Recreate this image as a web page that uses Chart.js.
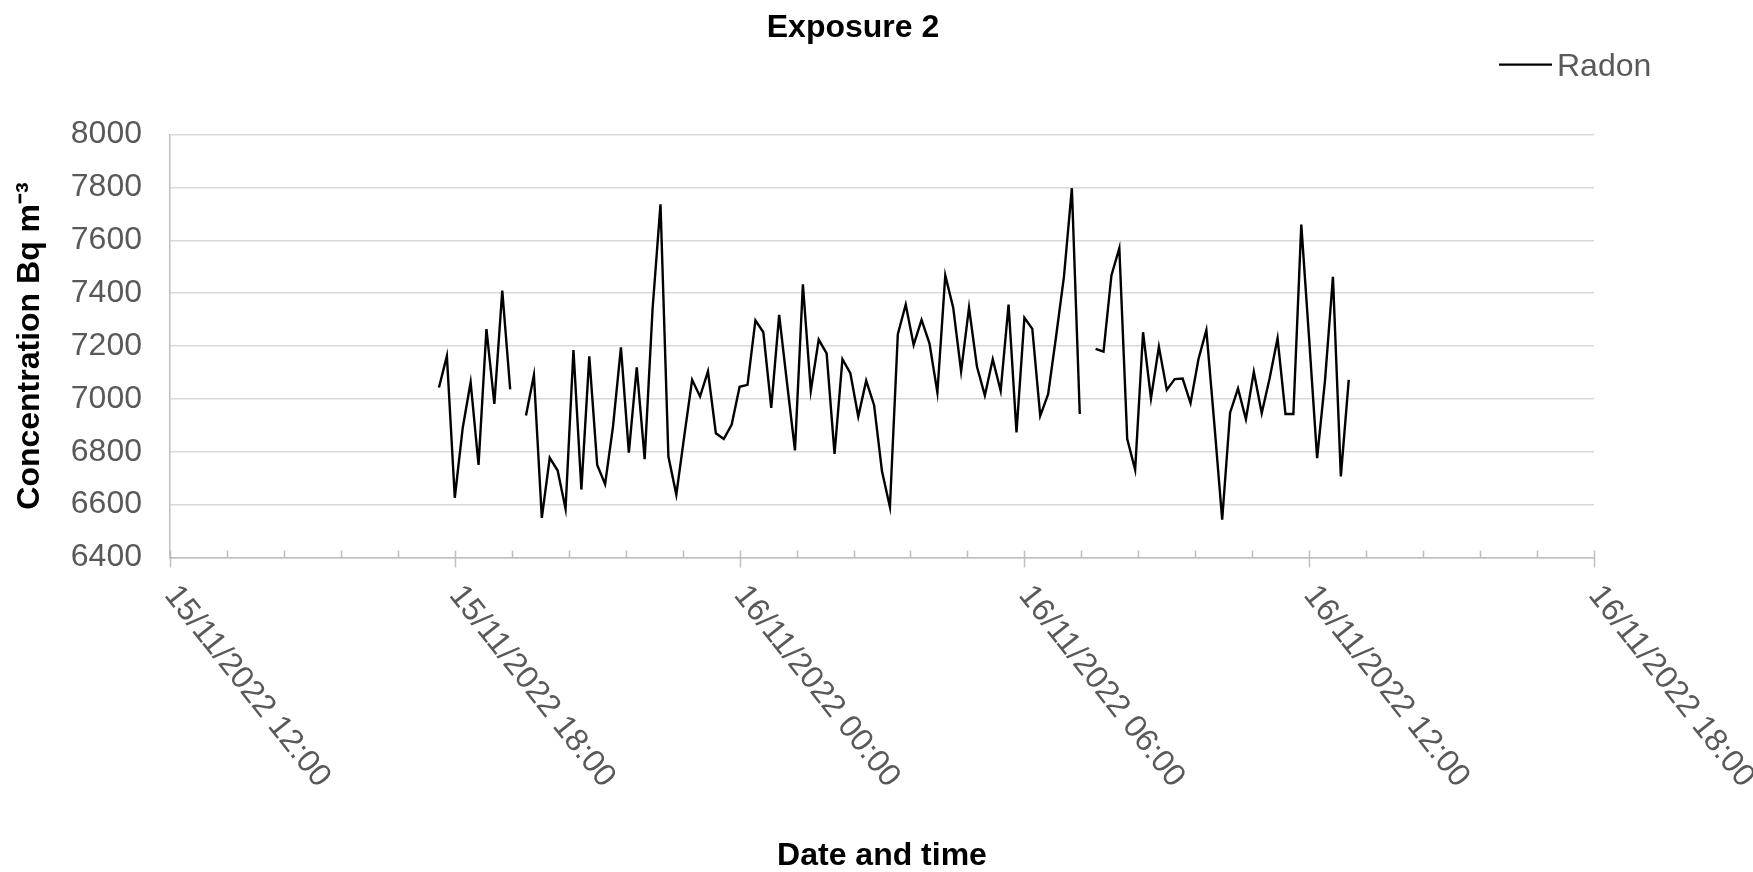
<!DOCTYPE html>
<html lang="en">
<head>
  <meta charset="UTF-8">
  <title>Exposure 2</title>
  <script src="https://cdn.jsdelivr.net/npm/chart.js"></script>
  <style>
    body { margin: 0; background: #fff; }
    #wrap { width: 1753px; height: 872px; }
  </style>
</head>
<body>
  <div id="wrap"><canvas id="chart"></canvas></div>

  <script>
    // minutes after 15/11/2022 12:00
    const firstReading = 340;   // 15/11/2022 17:40
    const stepMinutes = 10;

    // Radon readings, Bq m-3 (null = no reading)
    const radon = [
      7043, 7162, 6626, 6890, 7063, 6750, 7264, 6981, 7410, 7036,
      null,
      6937, 7090, 6550, 6777, 6729, 6584, 7185, 6657, 7161,
      6750, 6677, 6896, 7195, 6797, 7119, 6772, 7340, 7736,
      6782, 6638, 6858, 7072, 7009, 7104, 6870, 6848, 6903, 7046,
      7053, 7297, 7252, 6966, 7318, 7059, 6805, 7433, 7030, 7224,
      7172, 6792, 7150, 7097, 6933, 7069, 6976, 6726, 6591,
      7245, 7357, 7204, 7299, 7210, 7024, 7467, 7345, 7104, 7345, 7122,
      7013, 7150, 7030, 7357, 6873, 7307, 7265, 6936, 7018, 7235, 7462, 7797, 6943,
      null,
      7189, 7179, 7467, 7570,
      6848, 6732, 7252, 7002, 7197, 7034, 7075, 7077, 6984, 7150, 7260,
      6908, 6543, 6948, 7039, 6923, 7102, 6946, 7078, 7229, 6943, 6943,
      7659, 7223, 6776, 7070, 7462, 6707, 7072
    ];

    const xTickLabels = [
      '15/11/2022 12:00', '15/11/2022 18:00', '16/11/2022 00:00',
      '16/11/2022 06:00', '16/11/2022 12:00', '16/11/2022 18:00'
    ];
    const majorStep = 360;
    const minorStep = 72;

    const FONT = "'Liberation Sans', Arial, sans-serif";
    const GREY_TEXT = '#595959';
    const AXIS_GREY = '#bfbfbf';

    // title, legend and the rotated date labels are drawn here
    const decor = {
      id: 'decor',
      afterDraw(chart) {
        const ctx = chart.ctx;
        const x = chart.scales.x;
        const axisY = x.top;
        ctx.save();

        // tick marks
        ctx.strokeStyle = AXIS_GREY;
        ctx.lineWidth = 1.5;
        for (let v = x.min; v <= x.max; v += minorStep) {
          const px = Math.round(x.getPixelForValue(v)) + 0.5;
          const major = v % majorStep === 0;
          ctx.beginPath();
          ctx.moveTo(px, axisY - 7);
          ctx.lineTo(px, axisY + (major ? 10 : 0));
          ctx.stroke();
        }

        // date labels
        ctx.fillStyle = GREY_TEXT;
        ctx.font = '32px ' + FONT;
        ctx.textAlign = 'center';
        ctx.textBaseline = 'middle';
        xTickLabels.forEach((lab, i) => {
          const px = x.getPixelForValue(i * majorStep);
          ctx.save();
          ctx.translate(px + 77, axisY + 129);
          ctx.rotate(51.6 * Math.PI / 180);
          ctx.fillText(lab, 0, 0);
          ctx.restore();
        });

        // title
        ctx.fillStyle = '#000';
        ctx.font = 'bold 32px ' + FONT;
        ctx.textBaseline = 'alphabetic';
        ctx.fillText('Exposure 2', 853, 37);

        // legend
        ctx.strokeStyle = '#000';
        ctx.lineWidth = 2.25;
        ctx.beginPath();
        ctx.moveTo(1499, 64.5);
        ctx.lineTo(1552, 64.5);
        ctx.stroke();
        ctx.fillStyle = GREY_TEXT;
        ctx.font = '32px ' + FONT;
        ctx.textAlign = 'left';
        ctx.fillText('Radon', 1557, 76);

        ctx.restore();
      }
    };

    new Chart(document.getElementById('chart'), {
      type: 'line',
      data: {
        datasets: [{
          label: 'Radon',
          data: radon.map((v, i) => ({ x: firstReading + i * stepMinutes, y: v })),
          borderColor: '#000',
          borderWidth: 2.4,
          pointRadius: 0,
          tension: 0,
          spanGaps: false,
          fill: false
        }]
      },
      options: {
        responsive: true,
        maintainAspectRatio: false,
        animation: false,
        layout: { padding: { top: 134.5, right: 159, left: 0, bottom: 0 } },
        plugins: {
          legend: { display: false },
          title: { display: false },
          tooltip: { enabled: false }
        },
        scales: {
          x: {
            type: 'linear',
            min: 0,
            max: 1800,
            ticks: { display: false, stepSize: minorStep },
            grid: { display: false },
            border: { display: true, color: AXIS_GREY, width: 1.5 },
            title: {
              display: true,
              text: 'Date and time',
              color: '#000',
              font: { family: FONT, size: 32, weight: 'bold', lineHeight: 1 },
              padding: { top: 0, bottom: 0 }
            },
            afterFit(scale) { scale.height = 314.5; }
          },
          y: {
            min: 6400,
            max: 8000,
            ticks: {
              stepSize: 200,
              color: GREY_TEXT,
              padding: 28,
              font: { family: FONT, size: 32 },
              callback: v => String(v)
            },
            grid: { color: '#d9d9d9', lineWidth: 1.5, drawTicks: false },
            border: { display: true, color: AXIS_GREY, width: 1.5 },
            title: {
              display: true,
              text: 'Concentration Bq m\u207B\u00B3',
              color: '#000',
              font: { family: FONT, size: 32, weight: 'bold', lineHeight: 1 },
              padding: { top: 14, bottom: 0 }
            },
            afterFit(scale) { scale.width = 170; }
          }
        }
      },
      plugins: [decor]
    });
  </script>
</body>
</html>
